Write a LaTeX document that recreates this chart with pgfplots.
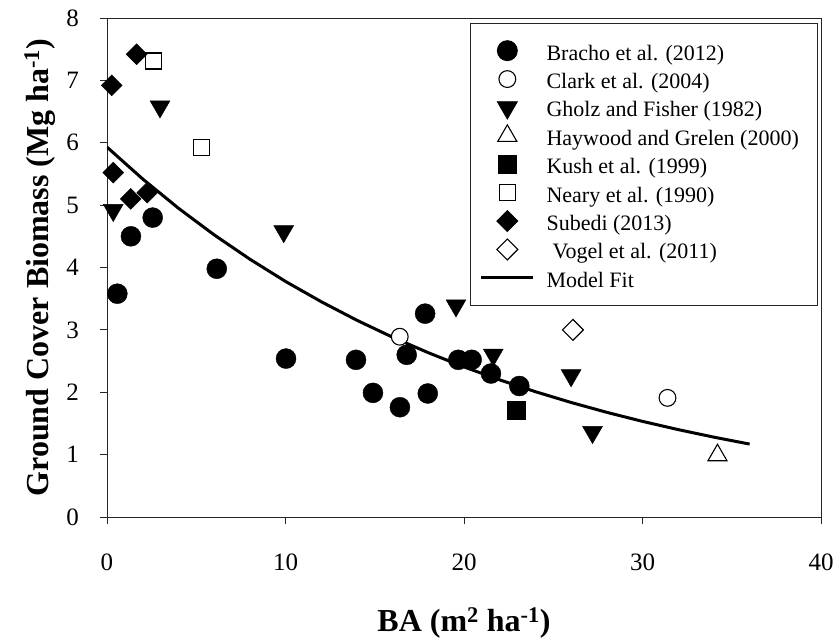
\documentclass[border=0pt]{standalone}
\usepackage{fontspec}
\setmainfont{Liberation Serif}
\usepackage{pgfplots}
\pgfplotsset{compat=1.18}
\begin{document}
\begin{tikzpicture}
\begin{axis}[
  at={(0,0)}, anchor=south west,
  scale only axis, width=714bp, height=499bp,
  xmin=0, xmax=40, ymin=0, ymax=8,
  xtick={0,10,20,30,40}, ytick={0,1,2,3,4,5,6,7,8},
  tick align=outside, tick pos=left, major tick length=7bp,
  axis line style={line width=0.9bp, black!85},
  every tick/.style={black!85, line width=0.9bp},
  /pgf/number format/assume math mode=true,
  tick label style={font=\fontsize{25bp}{30bp}\selectfont},
  xticklabel style={anchor=base, yshift=-46bp},
  yticklabel style={anchor=east, inner sep=0pt, xshift=-21bp},
  xlabel={\textbf{BA (m\textsuperscript{2} ha\textsuperscript{-1})}},
  ylabel={\textbf{Ground Cover Biomass (Mg ha\textsuperscript{-1})}},
  label style={font=\fontsize{32bp}{38bp}\selectfont},
  xlabel style={at={(axis description cs:0.5,-0.2285)}, anchor=base},
  ylabel style={at={(axis description cs:-0.0826,0.5)}, anchor=base, rotate=0},
  legend image code/.code={\draw[mark repeat=2,mark phase=2,#1] plot coordinates {(0bp,0bp) (26bp,0bp) (52bp,0bp)};},
  legend cell align=left,
  legend style={at={(1,1)}, anchor=north east, xshift=-3bp, yshift=-5bp,
    draw=black!85, line width=0.9bp,
    font=\fontsize{22bp}{26bp}\selectfont,
    row sep=0pt, column sep=9bp, inner xsep=9bp, inner ysep=13bp,
    nodes={text height=21bp, text depth=2bp, inner sep=2.7bp}},
]
\addplot[only marks, mark=*, mark size=10bp, black, mark options={fill=black}] coordinates {
(0.58,3.58) (1.34,4.50) (2.56,4.80) (6.15,3.98) (10.03,2.54) (13.95,2.52) (14.9,1.99) (16.41,1.76) (16.79,2.60) (17.82,3.26) (17.97,1.98) (19.68,2.52) (20.43,2.52) (21.51,2.30) (23.1,2.10)};
\addlegendentry{Bracho et al. (2012)}
\addplot[only marks, mark=*, mark size=8.4bp, black, mark options={fill=white, draw=black, line width=1.1bp}] coordinates {
(16.4,2.89) (31.4,1.91)};
\addlegendentry{Clark et al. (2004)}
\addplot[only marks, mark=triangle*, mark size=11.5bp, black, mark options={rotate=180, fill=black}] coordinates {
(0.35,4.92) (2.97,6.58) (9.9,4.58) (19.55,3.39) (21.64,2.60) (26.0,2.27) (27.2,1.36)};
\addlegendentry{Gholz and Fisher (1982)}
\addplot[only marks, mark=triangle*, mark size=11bp, black, mark options={fill=white, draw=black, line width=1.1bp}] coordinates {
(34.2,0.99)};
\addlegendentry{Haywood and Grelen (2000)\hspace*{7bp}}
\addplot[only marks, mark=square*, mark size=9bp, black, mark options={fill=black}] coordinates {
(22.91,1.72)};
\addlegendentry{Kush et al. (1999)}
\addplot[only marks, mark=square*, mark size=8bp, black, mark options={fill=white, draw=black, line width=1.1bp}] coordinates {
(2.6,7.31) (5.3,5.92)};
\addlegendentry{Neary et al. (1990)}
\addplot[only marks, mark=square*, mark size=7.4bp, black, mark options={rotate=45, fill=black}] coordinates {
(0.26,6.92) (1.66,7.42) (0.35,5.52) (1.33,5.10) (2.26,5.20)};
\addlegendentry{Subedi (2013)}
\addplot[only marks, mark=square*, mark size=7.4bp, black, mark options={rotate=45, fill=white, draw=black, line width=1.1bp}] coordinates {
(26.1,3.00)};
\addlegendentry{\hspace*{6bp}Vogel et al. (2011)}
\addplot[black, line width=3bp, no marks] coordinates {
(0,5.930) (2,5.419) (4,4.951) (6,4.524) (8,4.134) (10,3.777) (12,3.452) (14,3.154) (16,2.882) (18,2.634) (20,2.406) (22,2.199) (24,2.009) (26,1.836) (28,1.678) (30,1.533) (32,1.401) (34,1.280) (36,1.169)};
\addlegendentry{Model Fit}
\end{axis}
\pgfresetboundingbox
\path[use as bounding box] (-107bp,-122bp) rectangle (733bp,517bp);
\end{tikzpicture}
\end{document}
